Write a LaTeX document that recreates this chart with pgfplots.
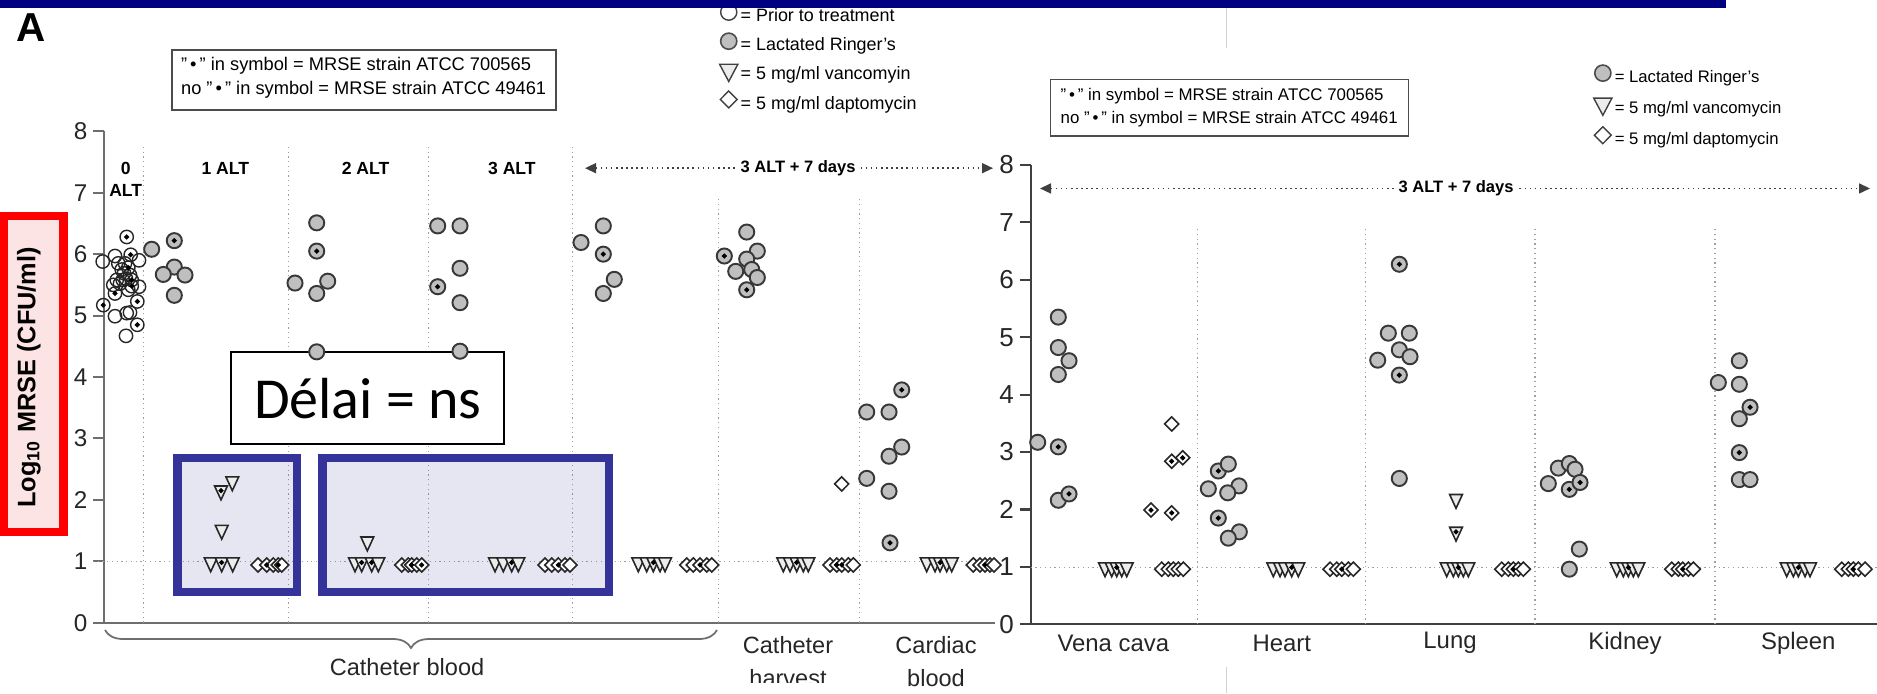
\documentclass[border=0pt]{standalone}
\usepackage{pgfplots}
\pgfplotsset{compat=1.18}
\usepackage{fontspec}
\setmainfont{Liberation Sans}
\newfontfamily\calibri{Carlito}
\usetikzlibrary{arrows.meta,decorations.pathreplacing}
\definecolor{navybar}{RGB}{0,0,128}
\definecolor{boxblue}{RGB}{51,51,153}
\definecolor{pinkfill}{RGB}{253,228,228}
\definecolor{axgray}{RGB}{110,110,110}

\tikzset{
 sepline/.style={densely dotted, gray!75, line width=0.35pt},
 arr/.style={densely dotted, black!75, line width=0.45pt, {Triangle[length=1.1mm,width=1mm]}-{Triangle[length=1.1mm,width=1mm]}},
}
\pgfplotsset{
 gc/.style={only marks, mark=*, mark size=2.15pt, mark options={fill=gray!50, draw=black!78, line width=0.55pt}},
 oc/.style={only marks, mark=o, mark size=1.9pt, mark options={draw=black!85, line width=0.4pt}},
 tr/.style={only marks, mark=triangle*, mark size=2.1pt, mark options={rotate=180, yscale=1.25, fill=gray!15, draw=black!85, line width=0.45pt}},
 dm/.style={only marks, mark=diamond*, mark size=2.0pt, mark options={xscale=1.33, fill=white, draw=black!85, line width=0.45pt}},
 dt/.style={only marks, mark=*, mark size=0.5pt, mark options={fill=black, draw=black}},
 base/.style={anchor=south west, scale only axis, ymin=0, ymax=8,
   axis lines*=left, xtick=\empty, ytick={0,1,...,8}, tick align=outside,
   major tick length=0.11cm, clip=false,
   axis line style={draw=axgray, line width=0.6pt},
   every tick/.style={draw=axgray, line width=0.6pt},
   /pgf/number format/assume math mode=true,
   legend cell align=left,
   legend image code/.code={\draw[mark repeat=2, mark phase=2, ##1] plot coordinates {(-0.06cm,0.05cm) (0cm,0.05cm) (0.06cm,0.05cm)};},
 },
}
\newcommand{\grp}{\bfseries\fontsize{5.0}{6}\selectfont}
\newcommand{\cat}{\fontsize{6.7}{8}\selectfont}
\newcommand{\qb}{\char34\,•\,\char34}

\begin{document}
\begin{tikzpicture}
\useasboundingbox (0,0) rectangle (18.77cm,6.93cm);
\clip (0,0) rectangle (18.77cm,6.93cm);

% ---------------- LEFT PANEL ----------------
\begin{axis}[base, at={(1.043cm,0.703cm)}, width=8.907cm, height=4.914cm,
  xmin=104.3, xmax=995,
  yticklabel style={font=\fontsize{6.9}{8}\selectfont, text=black!85, inner sep=1.5pt},
  legend style={at={(0.690,1.2605)}, anchor=north west, draw=none, fill=none,
    font=\fontsize{5.1}{6}\selectfont, row sep=0.9pt, inner sep=0pt, nodes={inner sep=0.8pt}}]
\addlegendimage{only marks, mark=o, mark size=2.3pt, mark options={draw=black!75, line width=0.4pt}}
\addlegendentry{= Prior to treatment\strut}
\addlegendimage{only marks, mark=*, mark size=2.3pt, mark options={fill=gray!50, draw=black!70, line width=0.45pt}}
\addlegendentry{= Lactated Ringer's\strut}
\addlegendimage{only marks, mark=triangle*, mark size=3.0pt, mark options={rotate=180, yscale=1.09, fill=gray!15, draw=black!75, line width=0.4pt}}
\addlegendentry{= 5 mg/ml vancomyin\strut}
\addlegendimage{only marks, mark=diamond*, mark size=2.4pt, mark options={xscale=1.33, fill=white, draw=black!75, line width=0.4pt}}
\addlegendentry{= 5 mg/ml daptomycin\strut}

% separators
\draw[sepline] (axis cs:143.3,0) -- (axis cs:143.3,7.78);
\draw[sepline] (axis cs:288.3,0) -- (axis cs:288.3,7.78);
\draw[sepline] (axis cs:428.3,0) -- (axis cs:428.3,7.78);
\draw[sepline] (axis cs:572.3,0) -- (axis cs:572.3,7.78);
\draw[sepline] (axis cs:718.3,0) -- (axis cs:718.3,6.93);
\draw[sepline] (axis cs:859.3,0) -- (axis cs:859.3,6.93);
\draw[sepline] (axis cs:93,1) -- (axis cs:995,1);

% Delai box
\node[draw=black, line width=0.5pt, fill=white, minimum width=2.733cm, minimum height=0.92cm, inner sep=0pt,
  font=\calibri\fontsize{16.5}{18}\selectfont] at (axis cs:367.65,3.653) {Délai = ns};

% group labels
\node[font=\grp] at (axis cs:125.7,7.40) {0};
\node[font=\grp] at (axis cs:125.7,7.03) {ALT};
\node[font=\grp] at (axis cs:225.3,7.40) {1 ALT};
\node[font=\grp] at (axis cs:365.6,7.40) {2 ALT};
\node[font=\grp] at (axis cs:511.9,7.40) {3 ALT};
\draw[arr] (axis cs:585,7.40) -- (axis cs:993,7.40);
\node[font=\bfseries\fontsize{4.7}{5}\selectfont, fill=white, inner sep=1.2pt] at (axis cs:798,7.40) {3 ALT + 7 days};

% bottom labels
\draw[decorate, decoration={brace, mirror, amplitude=0.18cm}, axgray, line width=0.5pt] (axis cs:105,-0.119) -- (axis cs:717,-0.119);
\node[font=\cat, text=black!85] at (axis cs:407,-0.721) {Catheter blood};
\node[font=\cat, text=black!85] at (axis cs:788,-0.363) {Catheter};
\node[font=\cat, text=black!85] at (axis cs:788,-0.900) {harvest};
\node[font=\cat, text=black!85] at (axis cs:936,-0.363) {Cardiac};
\node[font=\cat, text=black!85] at (axis cs:936,-0.900) {blood};

% prior to treatment (open circles)
\addplot[oc, forget plot] coordinates {(126.7,6.28) (102.7,5.88) (115,5.97) (130.7,5.99) (139,5.90) (125,5.85) (118.3,5.85) (121.7,5.75) (128.3,5.78) (124,5.69) (130,5.66) (126,5.60) (122.7,5.58) (131.7,5.58) (116.7,5.58) (120,5.52) (113.3,5.50) (115,5.36) (128.3,5.42) (139,5.47) (131.7,5.48) (103.3,5.17) (137.3,5.23) (115,4.99) (126.7,5.04) (130,5.05) (137.3,4.85) (126,4.67)};
\addplot[dt, forget plot] coordinates {(126.7,6.28) (130.7,5.99) (128.3,5.78) (131.7,5.58) (115,5.36) (131.7,5.48) (103.3,5.17) (137.3,5.23) (137.3,4.85)};

% lactated Ringer's
\addplot[gc, forget plot] coordinates {
(151.7,6.08) (174.3,6.22) (174.3,5.79) (163.3,5.67) (185,5.66) (174.3,5.33)
(295,5.53) (316.7,6.51) (316.7,6.05) (316.7,5.36) (327.7,5.56) (316.7,4.41)
(437.7,6.46) (460,6.46) (460,5.77) (437.7,5.47) (460,5.21) (460,4.42)
(581,6.19) (603.3,6.46) (603.3,6.00) (614.3,5.59) (603.3,5.36)
(724.3,5.97) (746.7,6.36) (757.3,6.05) (746.7,5.92) (751.7,5.75) (735.7,5.72) (757.3,5.62) (746.7,5.42)
(866.7,3.43) (889,3.43) (901.7,3.79) (901.7,2.86) (889,2.71) (866.7,2.35) (889,2.14) (890,1.30)};
\addplot[dt, forget plot] coordinates {(174.3,6.22) (316.7,6.05) (437.7,5.47) (603.3,6.00) (724.3,5.97) (746.7,5.42) (901.7,3.79) (890,1.30)};

% vancomycin
\addplot[tr, forget plot] coordinates {
(232.3,2.30) (221,2.15) (221.7,1.51) (210.7,0.98) (221.7,0.98) (232.7,0.98)
(367.3,1.32) (355,0.98) (361.7,0.98) (371.7,0.98) (378.3,0.98)
(495,0.98) (503.3,0.98) (511.7,0.98) (518.3,0.98)
(638.3,0.98) (646.7,0.98) (653.3,0.98) (660,0.98) (665,0.98)
(783.3,0.98) (790,0.98) (796.7,0.98) (803.3,0.98) (808.3,0.98)
(926.7,0.98) (935,0.98) (940,0.98) (946.7,0.98) (951.7,0.98)};
\addplot[dt, forget plot] coordinates {(221,2.15) (221.7,0.98) (361.7,0.98) (371.7,0.98) (511.7,0.98) (653.3,0.98) (796.7,0.98) (940,0.98)};

% daptomycin
\addplot[dm, forget plot] coordinates {
(258,0.94) (266.7,0.94) (273.3,0.94) (278.3,0.94) (281.7,0.94)
(401.7,0.94) (408.3,0.94) (411.7,0.94) (416.7,0.94) (421.7,0.94)
(545,0.94) (551.7,0.94) (558.3,0.94) (565,0.94) (570,0.94)
(686.7,0.94) (693.3,0.94) (700,0.94) (706.7,0.94) (711.7,0.94)
(830,0.94) (836.7,0.94) (841.7,0.94) (848.3,0.94) (853.3,0.94) (841.7,2.26)
(973.3,0.94) (980,0.94) (985,0.94) (990,0.94) (994,0.94)};
\addplot[dt, forget plot] coordinates {(266.7,0.94) (278.3,0.94) (411.7,0.94) (421.7,0.94) (558.3,0.94) (700,0.94) (836.7,0.94) (841.7,0.94) (985,0.94)};

% blue highlight boxes
\draw[line width=0.083cm, draw=boxblue, fill=boxblue, fill opacity=0.12] (axis cs:177.5,2.678) rectangle (axis cs:296.8,0.503);
\draw[line width=0.083cm, draw=boxblue, fill=boxblue, fill opacity=0.12] (axis cs:322.5,2.678) rectangle (axis cs:609.2,0.503);
\end{axis}

% ---------------- RIGHT PANEL ----------------
\begin{axis}[base, at={(10.307cm,0.687cm)}, width=8.463cm, height=4.594cm,
  xmin=1030.7, xmax=1877,
  axis line style={draw=black!75, line width=0.6pt},
  every tick/.style={draw=black!75, line width=0.6pt},
  yticklabel style={font=\fontsize{7.4}{8}\selectfont, text=black!85, inner sep=1.5pt},
  legend style={at={(0.6644,1.219)}, anchor=north west, draw=none, fill=none,
    font=\fontsize{4.75}{5.9}\selectfont, row sep=1.5pt, inner sep=0pt, nodes={inner sep=0.8pt}}]
\addlegendimage{only marks, mark=*, mark size=2.3pt, mark options={fill=gray!50, draw=black!70, line width=0.45pt}}
\addlegendentry{= Lactated Ringer's\strut}
\addlegendimage{only marks, mark=triangle*, mark size=3.0pt, mark options={rotate=180, yscale=1.09, fill=gray!15, draw=black!75, line width=0.4pt}}
\addlegendentry{= 5 mg/ml vancomycin\strut}
\addlegendimage{only marks, mark=diamond*, mark size=2.4pt, mark options={xscale=1.33, fill=white, draw=black!75, line width=0.4pt}}
\addlegendentry{= 5 mg/ml daptomycin\strut}

\draw[sepline] (axis cs:1197.3,0) -- (axis cs:1197.3,6.94);
\draw[sepline] (axis cs:1365.7,0) -- (axis cs:1365.7,6.94);
\draw[sepline] (axis cs:1535,0) -- (axis cs:1535,6.94);
\draw[sepline] (axis cs:1715,0) -- (axis cs:1715,6.94);
\draw[sepline] (axis cs:1030.7,0.99) -- (axis cs:1877,0.99);

\draw[arr] (axis cs:1040,7.59) -- (axis cs:1870,7.59);
\node[font=\bfseries\fontsize{4.7}{5}\selectfont, fill=white, inner sep=1.2pt] at (axis cs:1456,7.59) {3 ALT + 7 days};

\node[font=\fontsize{6.8}{8}\selectfont, text=black!85] at (axis cs:1113.3,-0.326) {Vena cava};
\node[font=\fontsize{6.8}{8}\selectfont, text=black!85] at (axis cs:1281.7,-0.326) {Heart};
\node[font=\fontsize{6.8}{8}\selectfont, text=black!85] at (axis cs:1450,-0.326) {Lung};
\node[font=\fontsize{6.8}{8}\selectfont, text=black!85] at (axis cs:1625,-0.326) {Kidney};
\node[font=\fontsize{6.8}{8}\selectfont, text=black!85] at (axis cs:1798.3,-0.326) {Spleen};

\addplot[gc, forget plot] coordinates {
(1037.7,3.17) (1058.3,5.35) (1058.3,4.82) (1069,4.59) (1058.3,4.35) (1058.3,3.09) (1058.3,2.16) (1069,2.27)
(1208.3,2.36) (1218.3,2.67) (1228.3,2.79) (1239,2.41) (1227.7,2.29) (1218.3,1.85) (1239.3,1.61) (1228.3,1.50)
(1377.7,4.60) (1388.3,5.07) (1409.3,5.07) (1399.3,4.78) (1410,4.66) (1399.3,4.34) (1399.3,6.27) (1399.3,2.54)
(1548.3,2.45) (1558.3,2.72) (1569.3,2.80) (1575,2.70) (1569.3,2.35) (1580,2.47) (1579.3,1.31) (1569.3,0.96)
(1718.3,4.21) (1739.3,4.59) (1739.3,4.18) (1750,3.78) (1739.3,3.58) (1739.3,2.99) (1739.3,2.52) (1750,2.52)};
\addplot[dt, forget plot] coordinates {(1058.3,3.09) (1069,2.27) (1218.3,2.67) (1218.3,1.85) (1399.3,4.34) (1399.3,6.27) (1569.3,2.35) (1580,2.47) (1750,3.78) (1739.3,2.99)};

\addplot[tr, forget plot] coordinates {
(1105,0.99) (1111.7,0.99) (1116.7,0.99) (1121.7,0.99) (1126.7,0.99)
(1273.3,0.99) (1280,0.99) (1285,0.99) (1291.7,0.99) (1298.3,0.99)
(1456,2.18) (1456,1.61) (1446.7,0.99) (1453.3,0.99) (1458.3,0.99) (1463.3,0.99) (1468.3,0.99)
(1616.7,0.99) (1623.3,0.99) (1628.3,0.99) (1633.3,0.99) (1638.3,0.99)
(1786.7,0.99) (1793.3,0.99) (1798.3,0.99) (1805,0.99) (1810,0.99)};
\addplot[dt, forget plot] coordinates {(1116.7,0.99) (1291.7,0.99) (1456,1.61) (1458.3,0.99) (1628.3,0.99) (1798.3,0.99)};

\addplot[dm, forget plot] coordinates {
(1151,1.99) (1171.7,3.49) (1171.7,2.84) (1182.7,2.90) (1171.7,1.94)
(1161.7,0.96) (1168.3,0.96) (1173.3,0.96) (1178.3,0.96) (1183.3,0.96)
(1330,0.96) (1336.7,0.96) (1341.7,0.96) (1348.3,0.96) (1353.3,0.96)
(1501.7,0.96) (1508.3,0.96) (1513.3,0.96) (1518.3,0.96) (1523.3,0.96)
(1671.7,0.96) (1678.3,0.96) (1682.7,0.96) (1688.3,0.96) (1693.3,0.96)
(1841.7,0.96) (1848.3,0.96) (1853.3,0.96) (1858.3,0.96) (1865,0.96)};
\addplot[dt, forget plot] coordinates {(1151,1.99) (1171.7,2.84) (1182.7,2.90) (1171.7,1.94) (1341.7,0.96) (1513.3,0.96) (1682.7,0.96) (1853.3,0.96)};
\end{axis}

% ---------------- DECORATIONS ----------------
\begin{scope}[x=0.01cm, y=-0.01cm, shift={(0cm,6.93cm)}]
\fill[navybar] (0,0) rectangle (1727,8.5);
\draw[gray!35, line width=0.4pt] (1227,8.5) -- (1227,48);
\draw[gray!35, line width=0.4pt] (1227,667) -- (1227,693);
\node[font=\bfseries\fontsize{11.5}{12}\selectfont] at (31.6,28) {A};
\draw[red, line width=0.085cm, fill=pinkfill] (4.25,216) rectangle (63.75,532.5);
\node[rotate=90, font=\bfseries\fontsize{7.2}{8}\selectfont] at (29,377.5) {Log\textsubscript{10} MRSE (CFU/ml)};
\draw[gray!60!black, line width=0.4pt] (171.9,50) rectangle (556.5,110);
\node[anchor=west, align=left, font=\fontsize{5.2}{6.8}\selectfont, inner sep=0pt] at (180.5,78)
  {\qb\ in symbol = MRSE strain ATCC 700565\\no \qb\ in symbol = MRSE strain ATCC 49461};
\draw[gray!60!black, line width=0.4pt] (1051,79.3) rectangle (1409,136);
\node[anchor=west, align=left, font=\fontsize{4.8}{6.35}\selectfont, inner sep=0pt] at (1060.6,107.7)
  {\qb\ in symbol = MRSE strain ATCC 700565\\no \qb\ in symbol = MRSE strain ATCC 49461};
\fill[white] (735,683.5) rectangle (845,693);
\end{scope}
\end{tikzpicture}
\end{document}
